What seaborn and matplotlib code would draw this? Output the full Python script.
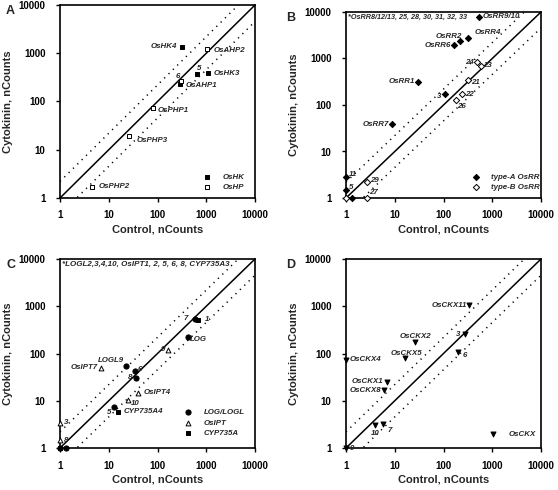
import numpy as np
import pandas as pd
import seaborn as sns
import matplotlib.pyplot as plt
from matplotlib.ticker import FixedLocator, NullLocator, FixedFormatter

sns.set_theme(style="white")
plt.rcParams['font.family'] = ['Liberation Sans', 'DejaVu Sans']

# ---- panel A: histidine kinases / phosphotransfer proteins
a_names = ['OsHK4', 'OsAHP2', '5', 'OsHK3', '6', 'OsAHP1', 'OsPHP1', 'OsPHP3', 'OsPHP2']
a_ctrl = [313, 1020, 645, 1100, 295, 309, 81, 26.4, 4.5]
a_ck = [1350, 1200, 370, 387, 236, 264, 75, 19.5, 1.7]
a_group = ['OsHK', 'OsHP', 'OsHK', 'OsHK', 'OsHK', 'OsHP', 'OsHP', 'OsHP', 'OsHP']

# ---- panel B: response regulators
b_names = ['OsRR9/10', 'OsRR4', 'OsRR2', 'OsRR6', '24', '23', 'OsRR1', '21', '3',
           '22', '26', 'OsRR7', '11', '5', '29', '27', '', '']
b_ctrl = [525, 325, 214, 166, 492, 575, 30, 316, 106, 238, 177, 8.7, 1, 1, 2.7, 2.7, 1, 1.3]
b_ck = [8000, 2770, 2340, 1960, 833, 690, 316, 338, 172, 170, 128, 38.6, 2.8, 1.46, 2.17, 1, 1, 1.02]
b_group = ['type-A OsRR'] * 4 + ['type-B OsRR'] * 2 + ['type-A OsRR', 'type-B OsRR', 'type-A OsRR',
           'type-B OsRR', 'type-B OsRR', 'type-A OsRR', 'type-A OsRR', 'type-A OsRR',
           'type-B OsRR', 'type-B OsRR', 'type-B OsRR', 'type-A OsRR']

# ---- panel C: biosynthesis (LOG, IPT, CYP735A)
c_names = ['7', '1', 'LOG', '9', 'OsIPT7', 'LOGL9', '6', '8', 'OsIPT4', '10', '5',
           'CYP735A4', '3', '8', '', '', '']
c_ctrl = [590, 680, 425, 164, 7.0, 22.5, 34.5, 35.6, 40.5, 24.3, 12.7, 15.6, 1, 1, 1, 1, 1.3]
c_ck = [540, 520, 220, 120, 50, 55.6, 41.7, 30.4, 14.9, 10.3, 7.4, 5.8, 3.45, 1.47, 1, 1, 1]
c_group = ['LOG/LOGL', 'CYP735A', 'LOG/LOGL', 'OsIPT', 'OsIPT', 'LOG/LOGL', 'LOG/LOGL',
           'LOG/LOGL', 'OsIPT', 'OsIPT', 'LOG/LOGL', 'CYP735A', 'OsIPT', 'OsIPT',
           'LOG/LOGL', 'CYP735A', 'LOG/LOGL']
c_order = ['LOG/LOGL', 'OsIPT', 'CYP735A']

# ---- panel D: cytokinin oxidases
d_names = ['OsCKX11', '3', 'OsCKX2', '6', 'OsCKX5', 'OsCKX4', 'OsCKX1', 'OsCKX8', '10', '7', '9']
d_ctrl = [327, 275, 26, 196, 16.6, 1, 6.8, 6.0, 4.0, 5.8, 1]
d_ck = [1050, 258, 173, 110, 80, 74, 25, 16.5, 3.1, 3.2, 1]
d_group = ['OsCKX'] * 11

tick_vals = [1, 10, 100, 1000, 10000]
tick_text = ['1', '10', '100', '1000', '10000']

# label placement (pixel offsets from the point, horizontal alignment)
a_lab = [(-5, 0, 'right'), (7, -1, 'left'), (2, 6, 'center'), (5, 0, 'left'), (-3, 7, 'center'),
         (4, -4, 'left'), (5, -3, 'left'), (7, -5, 'left'), (7, 0, 'left')]
b_lab = [(4, 0, 'left'), (6, 5, 'left'), (2, 5, 'right'), (-3, -1, 'right'), (-3, 0, 'right'),
         (3, 0, 'left'), (-3, 0, 'right'), (3, -2, 'left'), (-3, -2, 'right'), (3, 0, 'left'),
         (2, -6, 'left'), (-3, 0, 'right'), (3, 3, 'left'), (3, 3, 'left'), (3, 2, 'left'),
         (2, 5, 'left'), (0, 0, 'left'), (0, 0, 'left')]
c_lab = [(-7, 0, 'right'), (7, 0, 'left'), (2, -2, 'left'), (-3, 0, 'right'), (-3, 0, 'right'),
         (-2, 5, 'right'), (3, 2, 'left'), (-3, 0, 'right'), (5, 0, 'left'), (3, -3, 'left'),
         (-3, -6, 'right'), (5, 0, 'left'), (4, 0, 'left'), (4, 0, 'left'),
         (0, 0, 'left'), (0, 0, 'left'), (0, 0, 'left')]
d_lab = [(-2, 0, 'right'), (-5, 0, 'right'), (0, 6, 'center'), (5, -4, 'left'), (1, 5, 'center'),
         (4, 0, 'left'), (-3, 0, 'right'), (-3, 0, 'right'), (0, -9, 'center'), (4, -6, 'left'),
         (4, 0, 'left')]

styles = {
    'OsHK': dict(marker='s', facecolor='black', s=11),
    'OsHP': dict(marker='s', facecolor='white', s=11),
    'type-A OsRR': dict(marker='D', facecolor='black', s=10),
    'type-B OsRR': dict(marker='D', facecolor='white', s=10),
    'LOG/LOGL': dict(marker='o', facecolor='black', s=14),
    'OsIPT': dict(marker='^', facecolor='white', s=12),
    'CYP735A': dict(marker='s', facecolor='black', s=11),
    'OsCKX': dict(marker='v', facecolor='black', s=13),
}

W, H = 558, 490
fig = plt.figure(figsize=(W / 100, H / 100), dpi=100)


def make_axes(x0, y0, x1, y1):
    return fig.add_axes([x0 / W, 1 - y1 / H, (x1 - x0) / W, (y1 - y0) / H])


def draw_panel(ax, names, ctrl, ck, group, labs, letter, leg_anchor, order=None,
               note=None, note_size=5.2):
    df = pd.DataFrame({'Control': ctrl, 'Cytokinin': ck, 'group': group, 'name': names})
    order = order or list(dict.fromkeys(group))
    for g in order:
        st = styles[g]
        sns.scatterplot(data=df[df.group == g], x='Control', y='Cytokinin', ax=ax,
                        marker=st['marker'], s=st['s'], facecolor=st['facecolor'],
                        edgecolor='black', linewidth=0.7, label=g, clip_on=False, zorder=4)
    ax.set_xscale('log')
    ax.set_yscale('log')
    ax.set_xlim(1, 10000)
    ax.set_ylim(1, 10000)
    line = np.array([1, 10000])
    ax.plot(line, line, color='black', lw=1.1, zorder=2)
    ax.plot(line, line * 2.2, color='black', lw=1.1, ls=(0, (0.8, 3.2)), zorder=2)
    ax.plot(line, line / 2.2, color='black', lw=1.1, ls=(0, (0.8, 3.2)), zorder=2)
    for (nm, x, y, (dx, dy, ha)) in zip(names, ctrl, ck, labs):
        if nm:
            ax.annotate(nm, (x, y), xytext=(dx, dy), textcoords='offset pixels',
                        ha=ha, va='center', fontsize=5.7, fontweight='bold',
                        fontstyle='italic', zorder=5, annotation_clip=False)
    for axis in (ax.xaxis, ax.yaxis):
        axis.set_major_locator(FixedLocator(tick_vals))
        axis.set_major_formatter(FixedFormatter(tick_text))
        axis.set_minor_locator(NullLocator())
    ax.tick_params(axis='both', which='major', direction='out', length=3, width=1,
                   labelsize=7, pad=6, bottom=True, left=True, colors='black')
    ax.tick_params(axis='y', pad=7.5)
    for lbl in ax.get_xticklabels() + ax.get_yticklabels():
        lbl.set_fontweight('bold')
    for sp in ax.spines.values():
        sp.set_color('black')
        sp.set_linewidth(1.2)
    ax.set_xlabel('Control, nCounts', fontsize=8, fontweight='bold', labelpad=3)
    ax.set_ylabel('Cytokinin, nCounts', fontsize=8, fontweight='bold', labelpad=4)
    ax.legend(loc='lower left', bbox_to_anchor=leg_anchor, frameon=False, borderpad=0,
              borderaxespad=0, handlelength=1.0, handletextpad=1.45, labelspacing=0.35,
              prop={'size': 5.7, 'weight': 'bold', 'style': 'italic'})
    if note:
        ax.text(0.012, 0.988, note, transform=ax.transAxes, ha='left', va='top',
                fontsize=note_size, fontweight='bold', fontstyle='italic')
    bb = ax.get_position()
    fig.text(6 / W if bb.x0 < 0.5 else 286 / W, bb.y1 - 6 / H, letter,
             fontsize=9, fontweight='bold', ha='left', va='center')


ax_a = make_axes(60, 5, 255, 198)
ax_b = make_axes(346, 12, 541, 198)
ax_c = make_axes(60, 259, 255, 448)
ax_d = make_axes(346, 259, 541, 448)

draw_panel(ax_a, a_names, a_ctrl, a_ck, a_group, a_lab, 'A', (0.733, 0.036))
draw_panel(ax_b, b_names, b_ctrl, b_ck, b_group, b_lab, 'B', (0.646, 0.038),
           note='*OsRR8/12/13, 25, 28, 30, 31, 32, 33', note_size=5.2)
draw_panel(ax_c, c_names, c_ctrl, c_ck, c_group, c_lab, 'C', (0.636, 0.058), order=c_order,
           note='*LOGL2,3,4,10, OsIPT1, 2, 5, 6, 8, CYP735A3', note_size=5.8)
draw_panel(ax_d, d_names, d_ctrl, d_ck, d_group, d_lab, 'D', (0.733, 0.053))

fig.savefig('out.png', dpi=100)
